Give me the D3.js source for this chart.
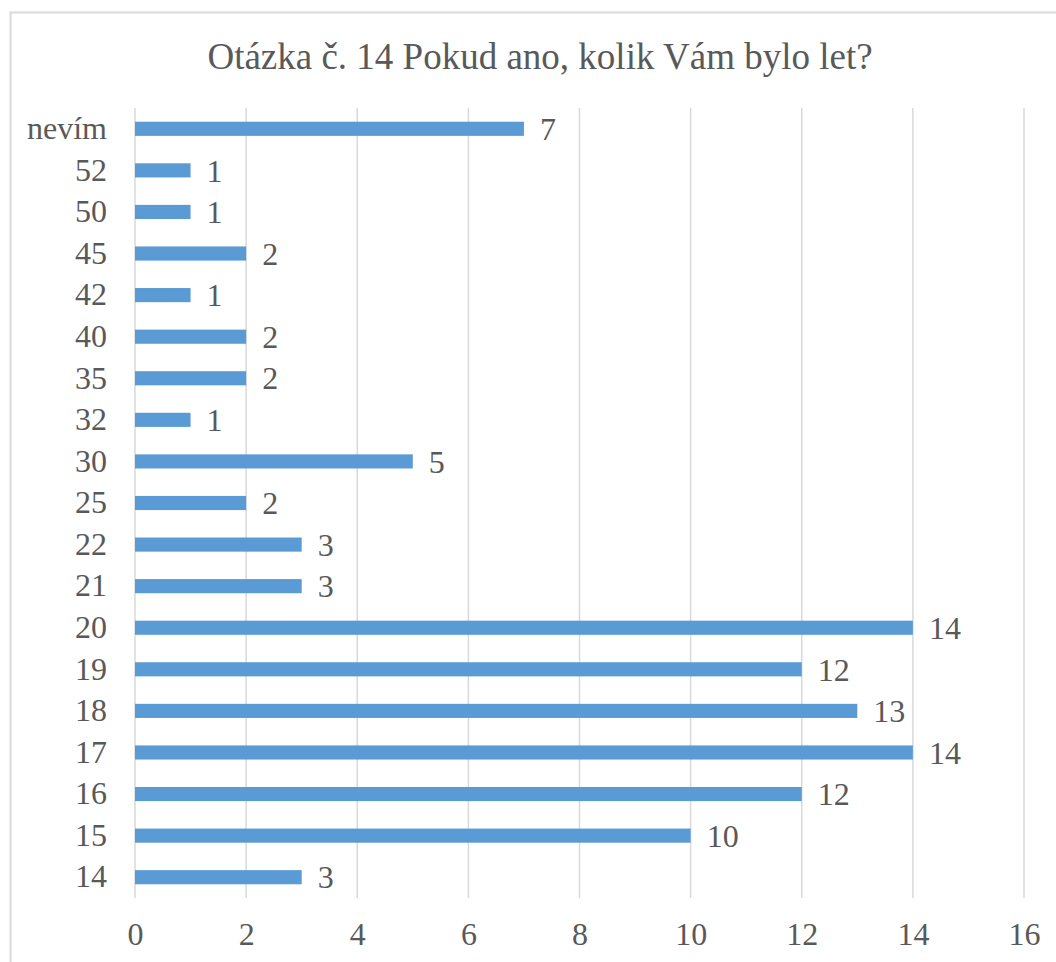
<!DOCTYPE html>
<html>
<head>
<meta charset="utf-8">
<script src="https://cdn.jsdelivr.net/npm/d3@7"></script>
<style>
html,body{margin:0;padding:0;background:#fff;}
svg{display:block;}
svg text{font-family:"Liberation Serif","Times New Roman",Times,"DejaVu Serif",serif;}
</style>
</head>
<body>
<svg id="chart" width="1056" height="962"></svg>
<script>
const categories = ["14","15","16","17","18","19","20","21","22","25","30","32","35","40","42","45","50","52","nevím"];
const values = [3,10,12,14,13,12,14,3,3,2,5,1,2,2,1,2,1,1,7];
const xTicks = [0,2,4,6,8,10,12,14,16];
const title = "Otázka č. 14 Pokud ano, kolik Vám bylo let?";

(function(){
const svg = d3.select("#chart");
const textColor = "#595959";

// chart border
svg.append("rect").attr("x",10.5).attr("y",12.5).attr("width",1100).attr("height",1000)
  .attr("fill","#fff").attr("stroke","#d9d9d9").attr("stroke-width",2);

svg.append("text").attr("x",540).attr("y",69).attr("text-anchor","middle")
  .attr("font-size",37).attr("fill",textColor).text(title);

const pL = 135, pR = 1024, pT = 108, pB = 898;
const x = d3.scaleLinear().domain([0,16]).range([pL,pR]);
const y = d3.scaleBand().domain(categories.slice().reverse()).range([pT,pB]).paddingInner(0.66).paddingOuter(0.33);

// gridlines
svg.append("g").selectAll("line").data(xTicks).join("line")
  .attr("x1",d=>x(d)).attr("x2",d=>x(d)).attr("y1",pT).attr("y2",pB)
  .attr("stroke","#d9d9d9").attr("stroke-width",1.5);

// bars
svg.append("g").selectAll("rect").data(categories).join("rect")
  .attr("x",x(0)).attr("y",(d)=>y(d))
  .attr("width",(d,i)=>x(values[i])-x(0)).attr("height",y.bandwidth())
  .attr("fill","#5b9bd5");

// value labels
svg.append("g").selectAll("text").data(categories).join("text")
  .attr("x",(d,i)=>x(values[i])+16).attr("y",d=>y(d)+y.bandwidth()/2)
  .attr("dy","0.35em").attr("font-size",32).attr("fill",textColor)
  .text((d,i)=>values[i]);

// y axis labels
const yAxis = d3.axisLeft(y).tickSize(0).tickPadding(28);
const gy = svg.append("g").attr("transform",`translate(${pL},0)`).call(yAxis);
gy.select(".domain").remove();
gy.attr("font-family",null);
gy.selectAll("text").attr("font-size",32).attr("fill",textColor);

// x axis labels
const xAxis = d3.axisBottom(x).tickValues(xTicks).tickSize(0).tickPadding(24);
const gx = svg.append("g").attr("transform",`translate(0,${pB})`).call(xAxis);
gx.select(".domain").remove();
gx.attr("font-family",null);
gx.selectAll("text").attr("font-size",32).attr("fill",textColor);
})();
</script>
</body>
</html>
